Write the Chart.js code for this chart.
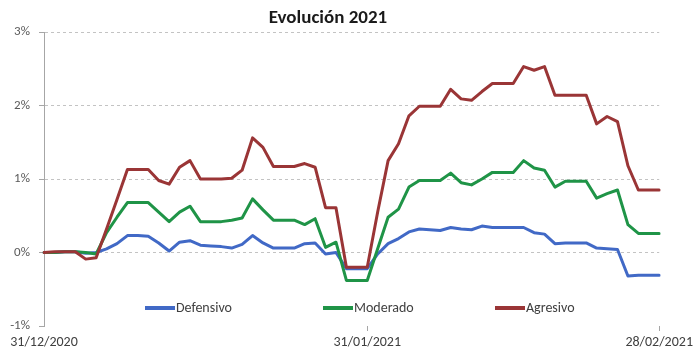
<!DOCTYPE html>
<html>
<head>
<meta charset="utf-8">
<script src="https://cdn.jsdelivr.net/npm/chart.js@4/dist/chart.umd.min.js"></script>
<style>
  html, body { margin: 0; padding: 0; background: #ffffff; }
  #wrap { width: 696px; height: 351px; }
</style>
</head>
<body>
<div id="wrap"><canvas id="c" width="696" height="351"></canvas></div>
<script>
// ---- Data ----
const titleText = 'Evolución 2021';

const dates = [
  '31/12/2020',
  '01/01/2021','02/01/2021','03/01/2021','04/01/2021','05/01/2021','06/01/2021','07/01/2021','08/01/2021','09/01/2021','10/01/2021',
  '11/01/2021','12/01/2021','13/01/2021','14/01/2021','15/01/2021','16/01/2021','17/01/2021','18/01/2021','19/01/2021','20/01/2021',
  '21/01/2021','22/01/2021','23/01/2021','24/01/2021','25/01/2021','26/01/2021','27/01/2021','28/01/2021','29/01/2021','30/01/2021',
  '31/01/2021',
  '01/02/2021','02/02/2021','03/02/2021','04/02/2021','05/02/2021','06/02/2021','07/02/2021','08/02/2021','09/02/2021','10/02/2021',
  '11/02/2021','12/02/2021','13/02/2021','14/02/2021','15/02/2021','16/02/2021','17/02/2021','18/02/2021','19/02/2021','20/02/2021',
  '21/02/2021','22/02/2021','23/02/2021','24/02/2021','25/02/2021','26/02/2021','27/02/2021','28/02/2021'
];

const shownDateLabels = ['31/12/2020', '31/01/2021', '28/02/2021'];

const seriesNames = ['Defensivo', 'Moderado', 'Agresivo'];

const defensivo = [
  0.00, 0.00, 0.01, 0.01, -0.01, 0.00, 0.05, 0.12, 0.23, 0.23,
  0.22, 0.13, 0.02, 0.14, 0.16, 0.10, 0.09, 0.08, 0.06, 0.11,
  0.23, 0.13, 0.06, 0.06, 0.06, 0.12, 0.13, -0.02, 0.00, -0.22,
  -0.22, -0.22, -0.02, 0.12, 0.19, 0.28, 0.32, 0.31, 0.30, 0.34,
  0.32, 0.31, 0.36, 0.34, 0.34, 0.34, 0.34, 0.27, 0.25, 0.12,
  0.13, 0.13, 0.13, 0.06, 0.05, 0.04, -0.32, -0.31, -0.31, -0.31
];

const moderado = [
  0.00, 0.00, 0.01, 0.01, 0.00, -0.02, 0.27, 0.48, 0.68, 0.68,
  0.68, 0.55, 0.42, 0.55, 0.63, 0.42, 0.42, 0.42, 0.44, 0.47,
  0.73, 0.58, 0.44, 0.44, 0.44, 0.38, 0.46, 0.07, 0.14, -0.38,
  -0.38, -0.38, 0.05, 0.48, 0.59, 0.89, 0.98, 0.98, 0.98, 1.08,
  0.95, 0.92, 1.00, 1.09, 1.09, 1.09, 1.25, 1.15, 1.12, 0.89,
  0.97, 0.97, 0.97, 0.74, 0.80, 0.85, 0.38, 0.26, 0.26, 0.26
];

const agresivo = [
  0.00, 0.01, 0.01, 0.01, -0.09, -0.07, 0.32, 0.72, 1.13, 1.13,
  1.13, 0.98, 0.93, 1.16, 1.25, 1.00, 1.00, 1.00, 1.01, 1.12,
  1.56, 1.43, 1.17, 1.17, 1.17, 1.21, 1.16, 0.61, 0.61, -0.20,
  -0.20, -0.20, 0.55, 1.25, 1.48, 1.86, 1.99, 1.99, 1.99, 2.22,
  2.09, 2.07, 2.19, 2.30, 2.30, 2.30, 2.53, 2.48, 2.53, 2.14,
  2.14, 2.14, 2.14, 1.75, 1.85, 1.78, 1.18, 0.85, 0.85, 0.85
];

const yMin = -1, yMax = 3, yStep = 1;

// ---- Styles ----
const FONT = 'Carlito, Calibri, Lato, "DejaVu Sans", sans-serif';
const colors = ['#4169C6', '#1F9447', '#9A3536'];
const textColor = '#404040';
const gridColor = '#C3C3C3';
const axisColor = '#A6A6A6';

const titlePlugin = {
  id: 'customTitle',
  afterDraw(chart) {
    const ctx = chart.ctx;
    ctx.save();
    ctx.font = 'bold 19px ' + FONT;
    ctx.fillStyle = '#1a1a1a';
    ctx.textAlign = 'center';
    ctx.textBaseline = 'middle';
    ctx.fillText(titleText, 328, 18);
    ctx.restore();
  }
};

const legendPlugin = {
  id: 'insideLegend',
  afterDraw(chart) {
    const ctx = chart.ctx;
    const area = chart.chartArea;
    const y = area.bottom - 18;
    const starts = [145, 323, 495];
    ctx.save();
    ctx.font = '14px ' + FONT;
    ctx.textBaseline = 'middle';
    ctx.textAlign = 'left';
    chart.data.datasets.forEach((ds, i) => {
      const x0 = starts[i];
      ctx.strokeStyle = ds.borderColor;
      ctx.lineWidth = 4;
      ctx.beginPath();
      ctx.moveTo(x0, y);
      ctx.lineTo(x0 + 30, y);
      ctx.stroke();
      ctx.fillStyle = textColor;
      ctx.fillText(ds.label, x0 + 31, y);
    });
    ctx.restore();
  }
};

const ctx = document.getElementById('c').getContext('2d');
new Chart(ctx, {
  type: 'line',
  data: {
    labels: dates,
    datasets: [
      { label: seriesNames[0], data: defensivo, borderColor: colors[0], order: 3 },
      { label: seriesNames[1], data: moderado, borderColor: colors[1], order: 2 },
      { label: seriesNames[2], data: agresivo, borderColor: colors[2], order: 1 }
    ].map(d => Object.assign(d, {
      borderWidth: 3, pointRadius: 0, tension: 0, fill: false,
      borderJoinStyle: 'round', borderCapStyle: 'round'
    }))
  },
  options: {
    responsive: false,
    animation: false,
    devicePixelRatio: 1,
    layout: { padding: { top: 32, right: 33, bottom: 0, left: 0 } },
    plugins: {
      legend: { display: false },
      title: { display: false },
      tooltip: { enabled: false }
    },
    scales: {
      x: {
        type: 'category',
        offset: false,
        afterFit(scale) { scale.height = 25; },
        border: { display: false },
        grid: {
          display: true,
          drawOnChartArea: false,
          drawTicks: true,
          tickLength: 5,
          tickColor: (c) => (c.tick && shownDateLabels.includes(dates[c.index]) && c.index > 0) ? axisColor : 'rgba(0,0,0,0)',
          color: 'rgba(0,0,0,0)'
        },
        ticks: {
          autoSkip: false,
          maxRotation: 0,
          minRotation: 0,
          padding: 3,
          color: textColor,
          font: { family: FONT, size: 14 },
          callback(value, index) {
            const l = dates[index];
            return shownDateLabels.includes(l) ? l : '';
          }
        }
      },
      y: {
        min: yMin,
        max: yMax,
        afterFit(scale) { scale.width = 44; },
        border: { display: true, color: axisColor, width: 1, dash: [3, 3] },
        grid: {
          color: (c) => (c.tick && c.tick.value === yMin) ? 'rgba(0,0,0,0)' : gridColor,
          lineWidth: 1,
          drawTicks: true,
          tickLength: 5,
          tickColor: axisColor
        },
        ticks: {
          stepSize: yStep,
          padding: 9,
          color: '#595959',
          font: { family: FONT, size: 13 },
          callback: (v) => v + '%'
        }
      }
    }
  },
  plugins: [titlePlugin, legendPlugin]
});
</script>
</body>
</html>
